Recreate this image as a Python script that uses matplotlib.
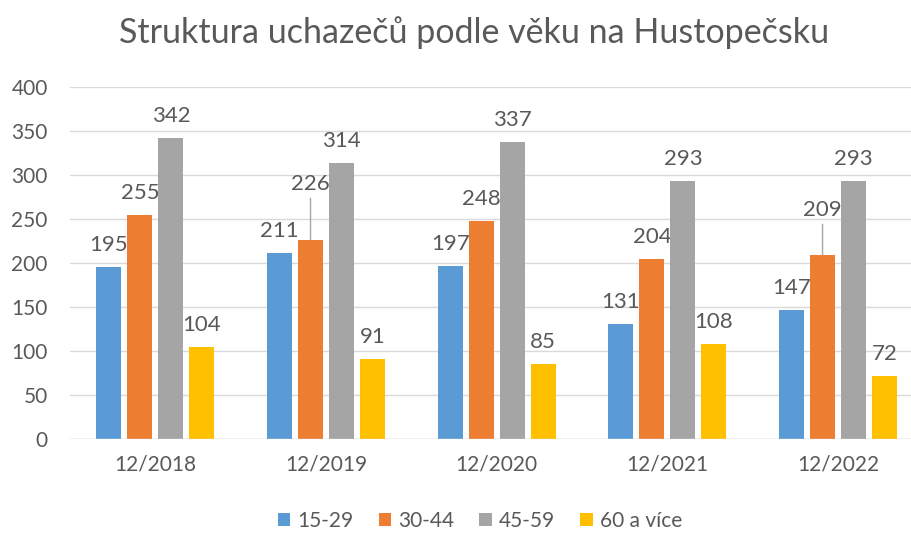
import matplotlib
matplotlib.use("Agg")
import matplotlib.pyplot as plt
import numpy as np

plt.rcParams['font.family'] = ['Lato', 'DejaVu Sans']

categories = ["12/2018", "12/2019", "12/2020", "12/2021", "12/2022"]
series_names = ["15-29", "30-44", "45-59", "60 a více"]
s_15_29 = [195, 211, 197, 131, 147]
s_30_44 = [255, 226, 248, 204, 209]
s_45_59 = [342, 314, 337, 293, 293]
s_60 = [104, 91, 85, 108, 72]
series = [s_15_29, s_30_44, s_45_59, s_60]
colors = ["#5B9BD5", "#ED7D31", "#A5A5A5", "#FFC000"]
title = "Struktura uchazečů podle věku na Hustopečsku"

# label offsets (pixels) for labels moved with leader lines
leader = {(1, 1): 46, (1, 4): 35}

W, H = 911, 533
fig = plt.figure(figsize=(W / 100, H / 100), dpi=100)
ax = fig.add_axes([70 / W, (H - 439) / H, (W - 70) / W, (439 - 87) / H])

x = np.arange(len(categories))
bw = 0.146
step = 0.1816
txt = "#595959"
for k, (vals, c) in enumerate(zip(series, colors)):
    xs = x + (k - 1.5) * step
    ax.bar(xs, vals, width=bw, color=c, label=series_names[k], zorder=3)
    for i, (xi, v) in enumerate(zip(xs, vals)):
        off = leader.get((k, i), 12)
        if (k, i) in leader:
            ax.annotate(str(v), (xi, v), xytext=(0, off), textcoords='offset pixels',
                        ha='center', va='bottom', fontsize=16, color=txt,
                        arrowprops=dict(arrowstyle='-', color='#A5A5A5', lw=1,
                                        shrinkA=1, shrinkB=0))
        else:
            ax.annotate(str(v), (xi, v), xytext=(0, off), textcoords='offset pixels',
                        ha='center', va='bottom', fontsize=16, color=txt)

ax.set_xlim(-0.5, 4.4275)
ax.set_ylim(0, 400)
ax.set_yticks(np.arange(0, 401, 50))
ax.set_xticks(x)
ax.set_xticklabels(categories)
ax.tick_params(axis='both', length=0, labelsize=15, colors=txt)
ax.tick_params(axis='y', pad=16)
ax.tick_params(axis='x', pad=11)
ax.grid(axis='y', color='#D9D9D9', lw=1, zorder=0)
for s in ax.spines.values():
    s.set_visible(False)
ax.axhline(0, color='#D9D9D9', lw=1, zorder=4)

fig.text(474 / W, (H - 33) / H, title, ha='center', va='center', fontsize=24.5, color=txt)

leg = fig.legend(loc='center', bbox_to_anchor=(480 / W, (H - 521) / H), ncol=4, frameon=False,
                 fontsize=15, handlelength=0.6, handleheight=0.6, columnspacing=1.2,
                 handletextpad=0.35)
for t in leg.get_texts():
    t.set_color(txt)

fig.savefig("out.png", dpi=100)
